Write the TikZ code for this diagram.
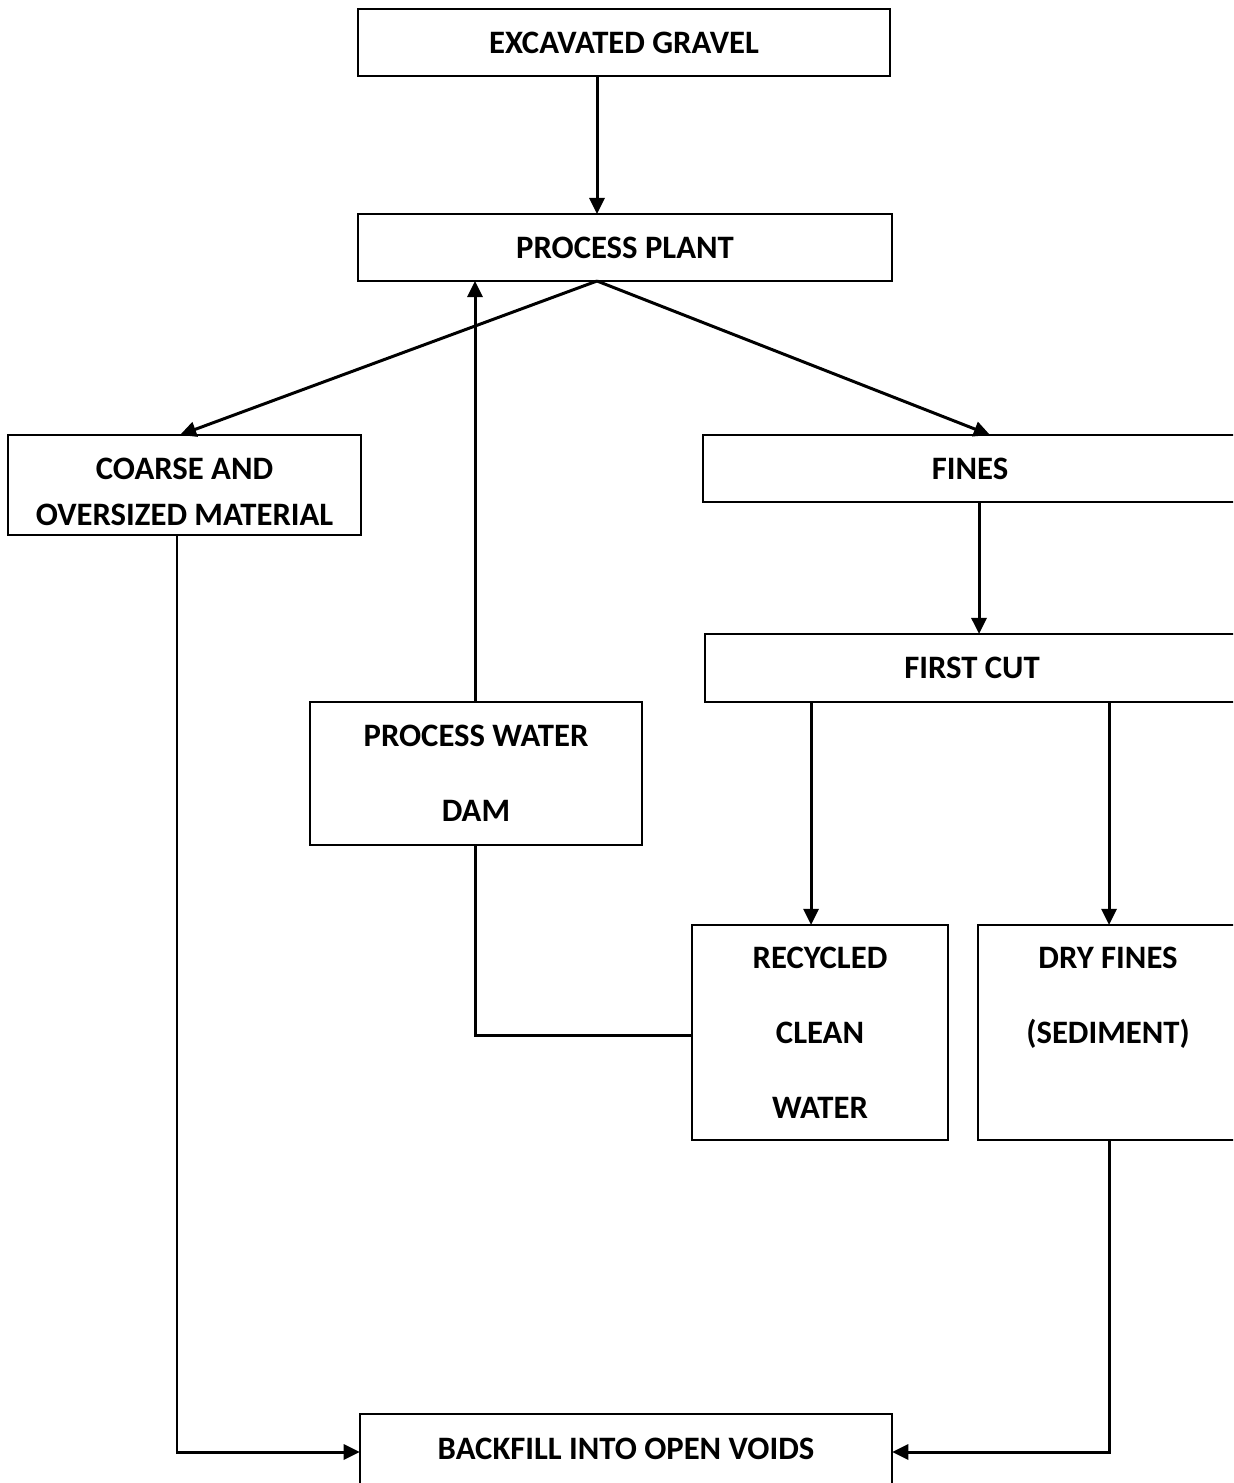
\documentclass[tikz,border=0pt]{standalone}
\usepackage{fontspec}
\setmainfont{Carlito}
\usetikzlibrary{arrows.meta, positioning}

\begin{document}
\begin{tikzpicture}[
	x=0.01cm, y=-0.01cm,
	FlowBox/.style={rectangle, draw, line width=0.6pt, inner sep=0pt, outer sep=0pt,
		align=center, font=\fontsize{9.3}{13.1}\selectfont\bfseries},
	FlowText/.style={inner sep=0pt, align=center, font=\fontsize{9.3}{13.1}\selectfont\bfseries},
	FlowArrow/.style={-{Triangle[length=4.6pt, width=4.3pt]}, line width=0.85pt},
	FlowLine/.style={line width=0.85pt}
	]

\useasboundingbox (0,0) rectangle (1233,1483);
\clip (0,0) rectangle (1233,1483);

\node [FlowBox, minimum width=5.32cm, minimum height=0.67cm] (gravel) at (624,42.5) {EXCAVATED GRAVEL};
\node [FlowBox, minimum width=5.34cm, minimum height=0.67cm] (plant) at (625,247.5) {PROCESS PLANT};
\node [FlowBox, minimum width=3.53cm, minimum height=1.00cm] (coarse) at (184.5,485) {};
\node [FlowText] (coarsetext) at ([yshift=-0.07cm]coarse.center) {COARSE AND\\OVERSIZED MATERIAL};
\node [FlowBox, minimum width=5.34cm, minimum height=0.67cm] (fines) at (970,468.5) {FINES};
\node [FlowBox, minimum width=5.34cm, minimum height=0.68cm] (cut) at (972,668) {FIRST CUT};
\node [FlowBox, minimum width=3.32cm, minimum height=1.43cm] (dam) at (476,773.5) {PROCESS WATER\\[8.2pt]DAM};
\node [FlowBox, minimum width=2.56cm, minimum height=2.15cm] (recycled) at (820,1032.5) {RECYCLED\\[8.2pt]CLEAN\\[8.2pt]WATER};
\node [FlowBox, minimum width=2.60cm, minimum height=2.15cm] (dryfines) at (1108,1032.5) {DRY FINES\\[8.2pt](SEDIMENT)\\[8.2pt]\mbox{}};
\node [FlowBox, minimum width=5.32cm, minimum height=0.70cm] (backfill) at (626,1449) {BACKFILL INTO OPEN VOIDS};

% plant in and out
\coordinate (split) at (597,0 |- plant.south);
\draw [FlowArrow] (597,0 |- gravel.south) -- (597,0 |- plant.north);
\draw [FlowArrow] (split) -- (180,0 |- coarse.north);
\draw [FlowArrow] (split) -- (990,0 |- fines.north);
\draw [FlowArrow] (475,0 |- dam.north) -- (475,0 |- plant.south);

% fines branch
\draw [FlowArrow] (979,0 |- fines.south) -- (979,0 |- cut.north);
\draw [FlowArrow] (811,0 |- cut.south) -- (811,0 |- recycled.north);
\draw [FlowArrow] (1109,0 |- cut.south) -- (1109,0 |- dryfines.north);
\draw [FlowLine] (475,0 |- dam.south) |- ([yshift=-0.025cm]recycled.west);

% backfill
\draw [FlowArrow] (177,0 |- coarse.south) |- ([yshift=-0.03cm]backfill.west);
\draw [FlowArrow] (1109,0 |- dryfines.south) |- ([yshift=-0.03cm]backfill.east);

\end{tikzpicture}
\end{document}
